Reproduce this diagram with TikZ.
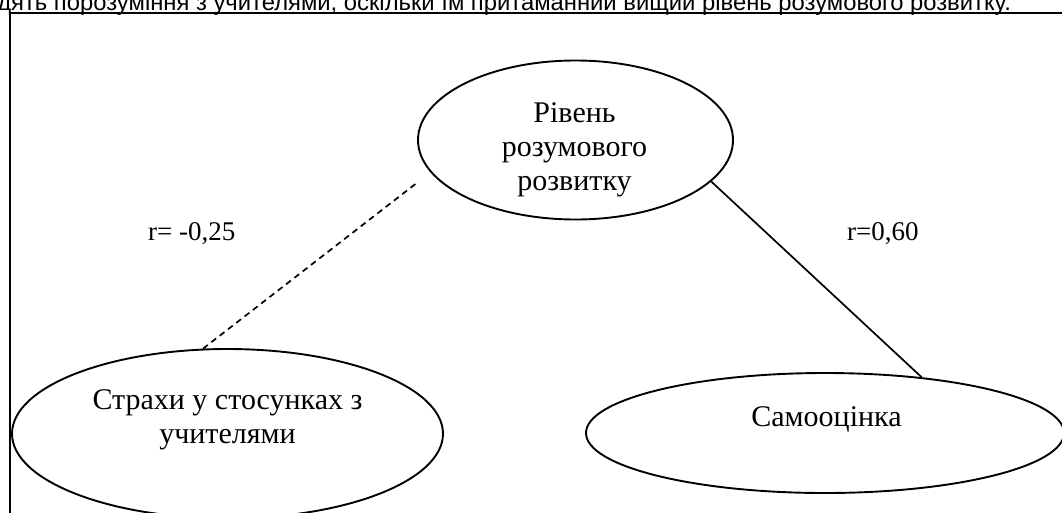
\documentclass[tikz,border=0pt]{standalone}
\usepackage{fontspec}
\setmainfont{Liberation Serif}
\newfontfamily\arialfont{Liberation Sans}
\usetikzlibrary{shapes.geometric}
\tikzset{
  x=1pt, y=-1pt,
  ell/.style={draw=black, line width=1.9pt, ellipse, inner sep=0pt},
  lbl/.style={inner sep=0pt, font=\fontsize{30}{34}\selectfont, align=center},
  rlbl/.style={inner sep=0pt, font=\fontsize{27}{31}\selectfont},
  frame/.style={draw=black, line width=2pt},
  conn/.style={draw=black, line width=1.7pt},
  dconn/.style={conn, dash pattern=on 6pt off 4.5pt}
}
\begin{document}
\begin{tikzpicture}
\useasboundingbox (0,0) rectangle (1062,512);
\fill[white] (0,0) rectangle (1062,512);
% cut-off running text
\node[anchor=base east, inner sep=0pt, font=\arialfont\fontsize{23.8}{27}\selectfont] (para) at (1011,10.5)
  {дять порозуміння з учителями, оскільки їм притаманний вищий рівень розумового розвитку.};
% frame
\coordinate (fbl) at (9.5,530);
\coordinate (ftl) at (9.5,12.8);
\coordinate (ftr) at (1080,12.8);
\draw[frame] (fbl) -- (ftl) -- (ftr);
% ellipses
\node[ell, minimum width=315pt, minimum height=159pt] (top) at (575.5,140) {};
\node[ell, minimum width=431pt, minimum height=169.4pt] (left) at (227.5,433.7) {};
\node[ell, minimum width=478pt, minimum height=120pt] (right) at (825,433) {};
% texts (base anchor = baseline of last line)
\node[lbl, anchor=base] (toptxt) at (574.5,190) {Рівень\\розумового\\розвитку};
\node[lbl, anchor=base] (lefttxt) at (227.5,443) {Страхи у стосунках з\\учителями};
\node[lbl, anchor=base] (righttxt) at (826.5,426) {Самооцінка};
\node[rlbl, anchor=base west] (rneg) at (148,240) {r= -0,25};
\node[rlbl, anchor=base west] (rpos) at (847,240) {r=0,60};
% connectors
\coordinate (dashend) at (418,182);
\draw[dconn] (left.106) -- (dashend);
\draw[conn] (top.-17.7) -- (right.30.8);
\end{tikzpicture}
\end{document}
